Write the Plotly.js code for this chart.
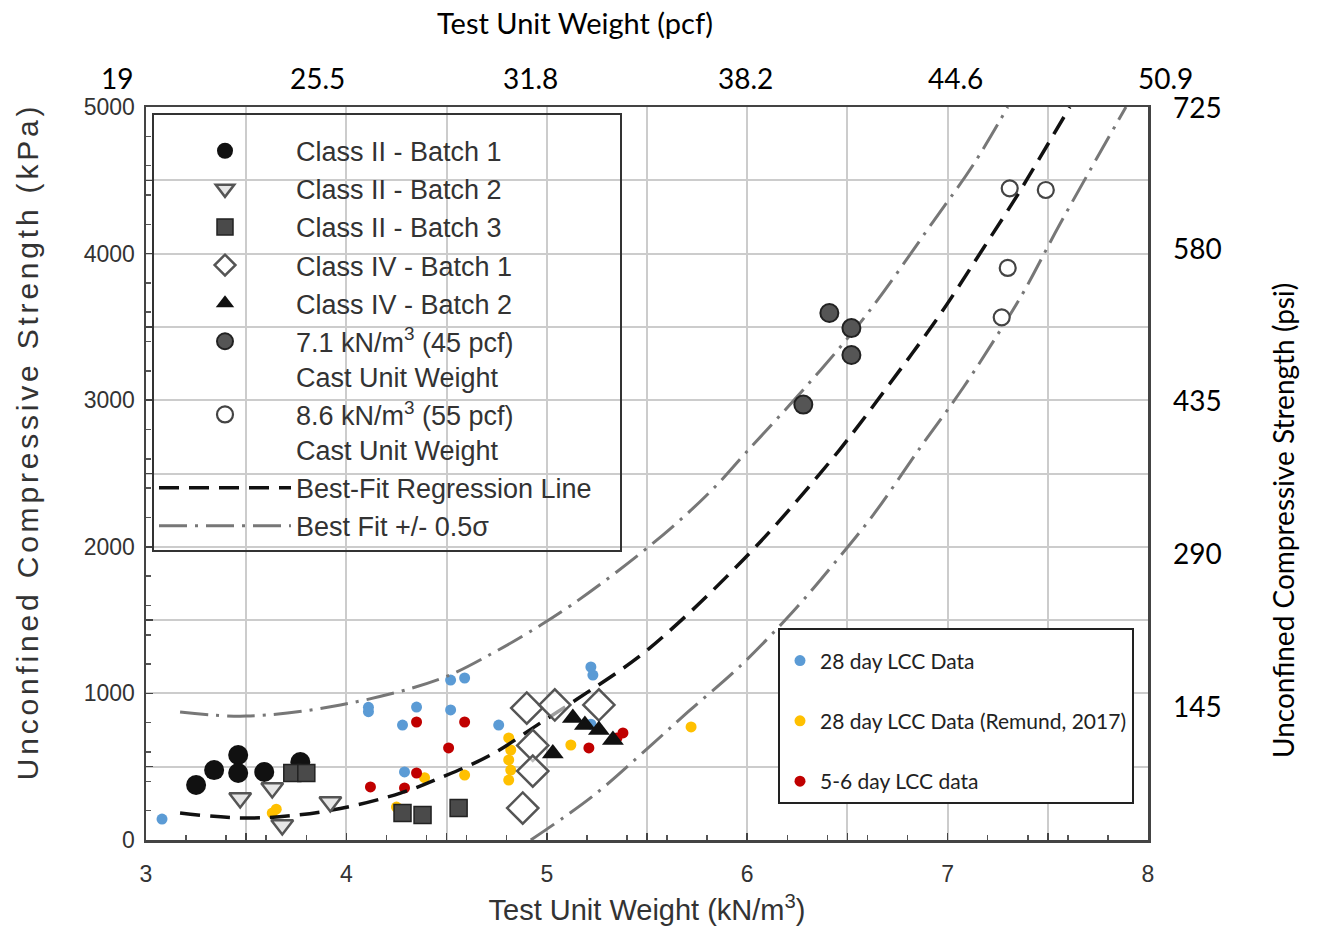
<!DOCTYPE html>
<html>
<head>
<meta charset="utf-8">
<script src="https://cdn.plot.ly/plotly-3.0.1.min.js"></script>
<style>
html,body{margin:0;padding:0;background:#fff;}
#chart{width:1319px;height:945px;}
.ytitle{letter-spacing:3.8px; translate:0 -32px;}
</style>
</head>
<body>
<div id="chart"></div>
<script>
// ---------- DATA ----------
const xTickVals = [3, 3.5, 4, 4.5, 5, 5.5, 6, 6.5, 7, 7.5, 8];
const xTickText = ['3', '', '4', '', '5', '', '6', '', '7', '', '8'];
const yTickVals = [0, 500, 1000, 1500, 2000, 2500, 3000, 3500, 4000, 4500, 5000];
const yTickText = ['0', '', '1000', '', '2000', '', '3000', '', '4000', '', '5000'];
const pcfLabels = ['19', '25.5', '31.8', '38.2', '44.6', '50.9'];
const psiLabels = ['725', '580', '435', '290', '145'];

const class2b1X = [3.25, 3.34, 3.46, 3.46, 3.59, 3.77];
const class2b1Y = [375, 477, 580, 457, 464, 532];
const class2b2X = [3.47, 3.63, 3.68, 3.92];
const class2b2Y = [287, 355, 102, 259];
const class2b3X = [3.73, 3.80, 4.28, 4.38, 4.56];
const class2b3Y = [457, 457, 184, 170, 218];
const class4b1X = [4.90, 5.04, 5.26, 4.93, 4.93, 4.88];
const class4b1Y = [900, 921, 921, 645, 470, 218];
const class4b2X = [5.13, 5.03, 5.19, 5.26, 5.33];
const class4b2Y = [832, 590, 784, 750, 682];
const cast71X = [6.41, 6.52, 6.52, 6.28];
const cast71Y = [3595, 3492, 3308, 2970];
const cast86X = [7.31, 7.49, 7.30, 7.27];
const cast86Y = [4445, 4434, 3902, 3565];

const lcc28X = [3.08, 4.11, 4.11, 4.35, 4.52, 4.59, 4.52, 4.28, 4.76, 4.29, 5.22, 5.23, 5.22];
const lcc28Y = [143, 905, 875, 907, 1091, 1105, 887, 784, 784, 464, 1180, 1125, 790];
const remundX = [3.63, 3.65, 4.25, 4.27, 4.37, 4.39, 4.59, 4.81, 4.82, 4.81, 4.82, 4.81, 5.12, 5.72];
const remundY = [184, 210, 225, 191, 184, 425, 443, 696, 614, 546, 477, 409, 648, 771];
const lcc56X = [4.12, 4.29, 4.35, 4.35, 4.51, 4.59, 5.21, 5.35, 5.38];
const lcc56Y = [362, 355, 805, 457, 628, 805, 628, 696, 730];

const bestX = [3.17, 3.47, 3.72, 3.97, 4.27, 4.47, 4.72, 4.97, 5.15, 5.45, 5.68, 5.90, 6.13, 6.46, 6.71, 6.96, 7.18, 7.34, 7.45, 7.61];
const bestY = [184, 150, 165, 215, 320, 425, 580, 800, 960, 1240, 1510, 1800, 2130, 2660, 3110, 3580, 4040, 4380, 4630, 5000];
const upperX = [3.17, 3.50, 3.97, 4.47, 4.75, 4.97, 5.12, 5.35, 5.63, 5.84, 5.99, 6.29, 6.59, 6.93, 7.13, 7.30];
const upperY = [873, 845, 921, 1100, 1290, 1466, 1600, 1830, 2140, 2410, 2637, 3087, 3574, 4222, 4610, 5000];
const lowerX = [4.92, 5.23, 5.51, 5.71, 5.96, 6.23, 6.43, 6.63, 6.86, 7.08, 7.26, 7.38, 7.56, 7.89];
const lowerY = [0, 300, 634, 880, 1180, 1560, 1880, 2220, 2670, 3090, 3470, 3740, 4200, 5000];

// ---------- STYLE ----------
const ARIAL = 'Liberation Sans, Arial, Helvetica, sans-serif';
const CALIBRI = 'Lato, Carlito, Calibri, sans-serif';
const NBSP = '\u00a0';

// plot-area pixel geometry (for annotation placement)
const L = 146, R = 1148, T = 107, B = 840;
const px2x = p => (p - L) / (R - L);
const px2y = p => (B - p) / (B - T);

function pts(name, x, y, marker, legend, group, rank) {
  const t = { type: 'scatter', mode: 'markers', name, x, y, marker, legend, legendgroup: group, cliponaxis: true };
  if (rank !== undefined) t.legendrank = rank;
  return t;
}

const curveLine = (color, width, dash) => ({ color, width, dash, shape: 'spline', smoothing: 1 });

const traces = [
  // overlaid newer data (drawn first, beneath the original marks)
  pts('28 day LCC Data', lcc28X, lcc28Y, { color: '#5b9bd5', size: 11, symbol: 'circle' }, 'legend2', 'g1'),
  pts('28 day LCC Data (Remund, 2017)', remundX, remundY, { color: '#ffc000', size: 11, symbol: 'circle' }, 'legend2', 'g2'),
  pts('5-6 day LCC data', lcc56X, lcc56Y, { color: '#c00000', size: 11, symbol: 'circle' }, 'legend2', 'g3'),
  // curves
  { type: 'scatter', mode: 'lines', name: 'Best-Fit Regression Line' + NBSP.repeat(3), x: bestX, y: bestY, legend: 'legend', legendgroup: 'h',
    line: curveLine('#111', 3.5, '20px,10px'), legendrank: 300 },
  { type: 'scatter', mode: 'lines', name: 'Best Fit +/- 0.5σ', x: upperX, y: upperY, legend: 'legend', legendgroup: 'i',
    line: curveLine('#777', 3, '28px,8px,3px,8px'), legendrank: 301 },
  { type: 'scatter', mode: 'lines', name: 'Best Fit - 0.5σ', x: lowerX, y: lowerY, legend: 'legend', legendgroup: 'i', showlegend: false,
    line: curveLine('#777', 3, '28px,8px,3px,8px') },
  // original markers
  pts('Class II - Batch 1', class2b1X, class2b1Y, { color: '#111', size: 20, symbol: 'circle' }, 'legend', 'a1', 100),
  pts('Class II - Batch 2', class2b2X, class2b2Y, { color: '#e6e6e6', size: 19, symbol: 'triangle-down', line: { color: '#555', width: 2.5 } }, 'legend', 'a2', 101),
  pts('Class II - Batch 3', class2b3X, class2b3Y, { color: '#4a4a4a', size: 17, symbol: 'square', line: { color: '#222', width: 1.5 } }, 'legend', 'a3', 102),
  pts('Class IV - Batch 1', class4b1X, class4b1Y, { color: 'rgba(255,255,255,0.6)', size: 24, symbol: 'diamond', line: { color: '#555', width: 2.5 } }, 'legend', 'a4', 103),
  pts('Class IV - Batch 2', class4b2X, class4b2Y, { color: '#111', size: 19, symbol: 'triangle-up' }, 'legend', 'a5', 104),
  pts('7.1 kN/m<sup>3</sup> (45 pcf)<br>Cast Unit Weight', cast71X, cast71Y, { color: '#555', size: 18, symbol: 'circle', line: { color: '#222', width: 2 } }, 'legend', 'a6', 200),
  pts('8.6 kN/m<sup>3</sup> (55 pcf)<br>Cast Unit Weight', cast86X, cast86Y, { color: '#fff', size: 16, symbol: 'circle', line: { color: '#444', width: 2.2 } }, 'legend', 'a7', 201)
];

const annotations = [];
annotations.push({ xref: 'paper', yref: 'paper', x: px2x(575), y: px2y(22), text: 'Test Unit Weight (pcf)',
  showarrow: false, font: { family: CALIBRI, size: 29, color: '#000' }, xanchor: 'center', yanchor: 'middle' });
const pcfPx = [117, 317, 530, 745, 955, 1165];
pcfLabels.forEach((t, i) => annotations.push({ xref: 'paper', yref: 'paper', x: px2x(pcfPx[i]), y: px2y(78), text: t,
  showarrow: false, font: { family: CALIBRI, size: 28, color: '#000' }, xanchor: 'center', yanchor: 'middle' }));
const psiPx = [107, 248, 400, 553, 706];
psiLabels.forEach((t, i) => annotations.push({ xref: 'paper', yref: 'paper', x: px2x(1197), y: px2y(psiPx[i]), text: t,
  showarrow: false, font: { family: CALIBRI, size: 28, color: '#000' }, xanchor: 'center', yanchor: 'middle' }));
annotations.push({ xref: 'paper', yref: 'paper', x: px2x(1283), y: px2y(521), text: 'Unconfined Compressive Strength (psi)',
  showarrow: false, textangle: -90, font: { family: CALIBRI, size: 28, color: '#000' }, xanchor: 'center', yanchor: 'middle' });

const layout = {
  width: 1319, height: 945,
  margin: { l: L, r: 1319 - R, t: T, b: 945 - B, pad: 0 },
  paper_bgcolor: '#fff', plot_bgcolor: '#fff',
  font: { family: ARIAL, color: '#333' },
  showlegend: true,
  xaxis: {
    range: [3, 8], tickvals: xTickVals, ticktext: xTickText,
    ticks: 'inside', ticklen: 7, tickwidth: 1.5, tickcolor: '#444', ticklabelstandoff: 12,
    showgrid: true, gridcolor: '#cccccc', gridwidth: 2,
    showline: true, linecolor: '#444', linewidth: 2.5, mirror: true, zeroline: false,
    tickfont: { family: ARIAL, size: 23, color: '#333' },
    minor: { dtick: 0.2, ticks: 'inside', ticklen: 5, tickcolor: '#555', showgrid: false },
    title: { text: 'Test Unit Weight (kN/m<sup>3</sup>)', font: { family: ARIAL, size: 29, color: '#333' }, standoff: 14 }
  },
  yaxis: {
    range: [0, 5000], tickvals: yTickVals, ticktext: yTickText,
    ticks: 'inside', ticklen: 7, tickwidth: 1.5, tickcolor: '#444', ticklabelstandoff: 4,
    showgrid: true, gridcolor: '#cccccc', gridwidth: 2,
    showline: true, linecolor: '#444', linewidth: 2.5, mirror: true, zeroline: false,
    tickfont: { family: ARIAL, size: 23, color: '#333' },
    minor: { dtick: 200, ticks: 'inside', ticklen: 5, tickcolor: '#555', showgrid: false },
    title: { text: 'Unconfined Compressive Strength (kPa)', font: { family: ARIAL, size: 30, color: '#333' }, standoff: 36 }
  },
  legend: {
    x: px2x(152), y: px2y(113), xanchor: 'left', yanchor: 'top',
    bgcolor: 'rgba(255,255,255,0)', bordercolor: '#333', borderwidth: 2,
    font: { family: ARIAL, size: 27, color: '#333' },
    title: { text: NBSP, font: { size: 9 } },
    itemwidth: 132, valign: 'top', traceorder: 'normal',
    itemclick: false, itemdoubleclick: false
  },
  legend2: {
    x: px2x(778), y: px2y(628), xanchor: 'left', yanchor: 'top',
    bgcolor: '#fff', bordercolor: '#222', borderwidth: 2,
    font: { family: CALIBRI, size: 21, color: '#222' },
    title: { text: NBSP, font: { size: 8 } },
    itemwidth: 30, tracegroupgap: 30, traceorder: 'grouped',
    itemclick: false, itemdoubleclick: false
  },
  annotations
};

Plotly.newPlot('chart', traces, layout, { displayModeBar: false, staticPlot: true });
</script>
</body>
</html>
